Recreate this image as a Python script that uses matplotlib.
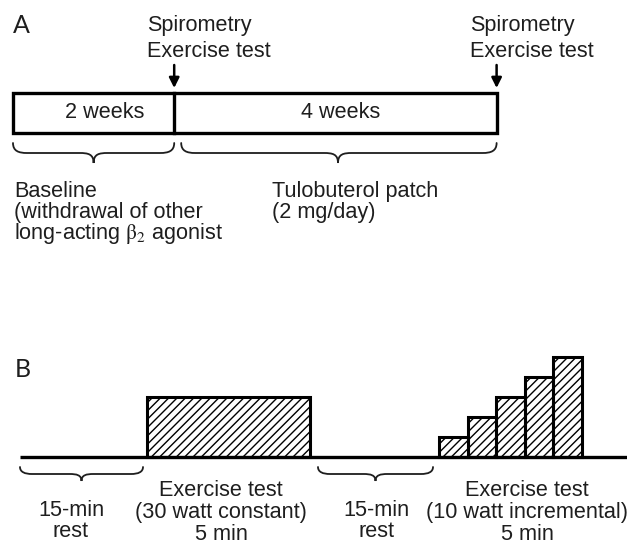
import numpy as np
import matplotlib
matplotlib.use("Agg")
import matplotlib.pyplot as plt
from matplotlib.path import Path
from matplotlib.patches import PathPatch, Rectangle

plt.rcParams['font.family'] = ['Liberation Sans', 'DejaVu Sans']
plt.rcParams['mathtext.fontset'] = 'stix'
plt.rcParams['hatch.linewidth'] = 1.0

# panel A: study timeline
phase_weeks = [2, 4]
phase_labels = ["2 weeks", "4 weeks"]
phase_notes = ["Baseline\n(withdrawal of other\nlong-acting $\\mathrm{\\beta}_2$ agonist",
               "Tulobuterol patch\n(2 mg/day)"]
visit_label = "Spirometry\nExercise test"

# panel B: exercise protocol
constant_watt = 30
incremental_watts = [10, 20, 30, 40, 50]
rest_label = "15-min\nrest"
test_labels = ["Exercise test\n(30 watt constant)\n5 min",
               "Exercise test\n(10 watt incremental)\n5 min"]

INK = '#1e1e1e'
fs = 15.6


def lines(ax, x, y0, text, step, ha='left'):
    # one text per line so every baseline sits where the figure has it
    for i, ln in enumerate(text.split('\n')):
        ax.text(x, y0 + i * step, ln, fontsize=fs, ha=ha, va='baseline',
                color=INK)


def brace(ax, x0, x1, y, h, tip=None, r=14, lw=1.3):
    if tip is None:
        tip = (x0 + x1) / 2
    hm = y + h * 0.5
    verts = [(x0, y), (x0, hm - 2), (x0 + r * 0.4, hm), (x0 + r, hm),
             (tip - r, hm),
             (tip - r * 0.4, hm), (tip, hm + 1), (tip, y + h),
             (tip, hm + 1), (tip + r * 0.4, hm), (tip + r, hm),
             (x1 - r, hm),
             (x1 - r * 0.4, hm), (x1, hm - 2), (x1, y)]
    codes = [Path.MOVETO, Path.CURVE4, Path.CURVE4, Path.CURVE4,
             Path.LINETO,
             Path.CURVE4, Path.CURVE4, Path.CURVE4,
             Path.CURVE4, Path.CURVE4, Path.CURVE4,
             Path.LINETO,
             Path.CURVE4, Path.CURVE4, Path.CURVE4]
    ax.add_patch(PathPatch(Path(verts, codes), fill=False, lw=lw,
                           edgecolor=INK, capstyle='round'))


fig = plt.figure(figsize=(6.27, 5.46), dpi=100)
ax = fig.add_axes([0, 0, 1, 1])
ax.set_xlim(0, 627)
ax.set_ylim(546, 0)
ax.axis('off')

# ---- A ----
ax.text(13, 33, "A", fontsize=18, family=['Lato', 'DejaVu Sans'],
        color=INK, va='baseline')

x0, px_week = 13, 80.6
box_top, box_bot = 93, 133
edges = x0 + np.concatenate([[0], np.cumsum(phase_weeks)]) * px_week
ax.add_patch(Rectangle((edges[0], box_top), edges[-1] - edges[0],
                       box_bot - box_top, fill=False, lw=2.4,
                       edgecolor='black'))
ax.plot([edges[1], edges[1]], [box_top, box_bot], color='black', lw=2.4)

for i, lab in enumerate(phase_labels):
    ax.text((edges[i] + edges[i + 1]) / 2 + 11 - 6 * i, 118, lab,
            fontsize=fs, ha='center', va='baseline', color=INK)

for xe in edges[1:]:
    ax.annotate('', xy=(xe, 88), xytext=(xe, 65),
                arrowprops=dict(arrowstyle='-|>', lw=1.8, color='black',
                                mutation_scale=15, shrinkA=0, shrinkB=0))
    lines(ax, xe - 27, 31, visit_label, 26)

brace(ax, edges[0], edges[1], 143, 20)
brace(ax, edges[1] + 7, edges[2], 143, 20, tip=338)

lines(ax, 14, 197, phase_notes[0], 21)
lines(ax, 272, 197, phase_notes[1], 21)

# ---- B ----
ax.text(15, 377, "B", fontsize=18, family=['Lato', 'DejaVu Sans'],
        color=INK, va='baseline')

base_y, px_watt = 457, 2.0
ax.plot([20, 627], [base_y, base_y], color='black', lw=2.4,
        solid_capstyle='butt')

ax.bar([147], [-constant_watt * px_watt], width=163, bottom=base_y,
       align='edge', fill=False, hatch='////', edgecolor='black', lw=2.2)

bar_w = 28.5
bar_x = 439 + np.arange(len(incremental_watts)) * bar_w
ax.bar(bar_x, -np.array(incremental_watts) * px_watt, width=bar_w,
       bottom=base_y, align='edge', fill=False, hatch='////',
       edgecolor='black', lw=2.2)

brace(ax, 20, 143, 467, 14, r=12)
brace(ax, 318, 433, 467, 14, r=12)

lines(ax, 71, 516, rest_label, 21, ha='center')
lines(ax, 376, 516, rest_label, 21, ha='center')
lines(ax, 221, 496, test_labels[0], 22, ha='center')
lines(ax, 527, 496, test_labels[1], 22, ha='center')

fig.savefig("out.png", dpi=100)
